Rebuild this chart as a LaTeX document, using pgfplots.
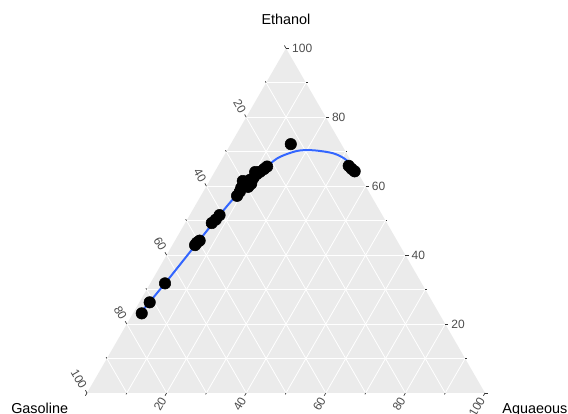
\documentclass[border=0pt]{standalone}
\usepackage{fontspec}
\setmainfont{Liberation Sans}
\usepackage{pgfplots}
\usepackage{pgfplotstable}
\pgfplotsset{compat=1.18}
\definecolor{panel}{HTML}{EBEBEB}
\definecolor{fitblue}{HTML}{3366FF}
\definecolor{ticklab}{HTML}{4D4D4D}
\definecolor{tickcol}{HTML}{333333}

% Ternary compositions: E = Ethanol, A = Aqueous (Gasoline = 100 - E - A)
\pgfplotstableread{
E A
23.1 2.2
26.3 2.6
31.8 3.7
42.9 5.7
43.6 5.8
44.2 6.2
49.3 6.7
50.3 7.2
51.6 7.5
57.2 9.1
58.4 9.2
59.5 9.0
60.1 9.4
60.8 9.8
60.7 10.9
61.8 10.0
62.3 10.6
63.5 10.9
64.1 10.2
64.2 11.4
65.0 12.0
65.7 12.4
59.8 10.6
61.5 8.4
72.2 15.1
65.9 32.8
65.0 34.0
64.3 35.1
}\pts

\pgfplotstableread{
E A
23.6 1.9
31.8 3.7
43.4 5.9
50.6 7.3
57.4 8.9
63.7 11.6
68.0 13.7
70.2 17.6
70.4 21.7
69.5 27.2
67.5 31.5
63.7 35.9
}\fitdata

\begin{document}
\begin{tikzpicture}
\begin{axis}[hide axis, scale only axis, width=426pt, height=310.5pt,
  xmin=-21.86, xmax=120.85, ymin=-5.28, ymax=98.74, clip=false]
\coordinate (bl) at (rel axis cs:0,0);
\coordinate (tr) at (rel axis cs:1,1);
\addplot[fill=panel, draw=none] coordinates {(0,0) (100,0) (50,86.60254)} -- cycle;
\pgfplotsinvokeforeach{10,20,...,90}{
  \draw[white, line width=0.6pt] ({#1/2},{0.8660254*#1}) -- ({100-#1/2},{0.8660254*#1});
  \draw[white, line width=0.6pt] ({#1},0) -- ({#1+(100-#1)/2},{0.8660254*(100-#1)});
  \draw[white, line width=0.6pt] ({100-#1},0) -- ({(100-#1)/2},{0.8660254*(100-#1)});
}
% major ticks
\pgfplotsinvokeforeach{0,20,...,100}{
  \draw[tickcol, line width=0.5pt] ({100-#1/2},{0.8660254*#1}) -- ({100-#1/2+0.8},{0.8660254*#1});
  \draw[tickcol, line width=0.5pt] ({50-#1/2},{0.8660254*(100-#1)}) -- ({50-#1/2-0.4},{0.8660254*(100-#1)+0.6928});
  \draw[tickcol, line width=0.5pt] ({#1},0) -- ({#1-0.4},-0.6928);
}
% minor ticks
\pgfplotsinvokeforeach{10,30,...,90}{
  \draw[tickcol, line width=0.5pt] ({100-#1/2},{0.8660254*#1}) -- ({100-#1/2+0.4},{0.8660254*#1});
  \draw[tickcol, line width=0.5pt] ({50-#1/2},{0.8660254*(100-#1)}) -- ({50-#1/2-0.2},{0.8660254*(100-#1)+0.3464});
  \draw[tickcol, line width=0.5pt] ({#1},0) -- ({#1-0.2},-0.3464);
}
% tick labels
\pgfplotsinvokeforeach{20,40,...,100}{
  \node[anchor=west, inner sep=0pt, text=ticklab, font=\fontsize{9}{10}\selectfont]
    at ({100-#1/2+1.5},{0.8660254*#1}) {#1};
  \node[anchor=east, rotate=-60, inner sep=0pt, text=ticklab, font=\fontsize{9}{10}\selectfont]
    at ({50-#1/2-0.75},{0.8660254*(100-#1)+1.299}) {#1};
  \node[anchor=east, rotate=60, inner sep=0pt, text=ticklab, font=\fontsize{9}{10}\selectfont]
    at ({#1-0.75},{-1.299}) {#1};
}
\addplot[only marks, mark=*, mark size=4.3pt, black]
  table[x expr=\thisrow{A}+0.5*\thisrow{E}, y expr=0.8660254*\thisrow{E}] {\pts};
\addplot[smooth, fitblue, line width=1.5pt]
  table[x expr=\thisrow{A}+0.5*\thisrow{E}, y expr=0.8660254*\thisrow{E}] {\fitdata};
\node[anchor=base, inner sep=0pt, font=\fontsize{10.8}{12}\selectfont] at (50,92.46) {Ethanol};
\node[anchor=base west, inner sep=0pt, font=\fontsize{10.8}{12}\selectfont] at (-19.1,-5.2) {Gasoline};
\node[anchor=base west, inner sep=0pt, font=\fontsize{10.8}{12}\selectfont] at (104.3,-5.2) {Aquaeous};
\end{axis}
\pgfresetboundingbox
\path (bl) rectangle (tr);
\end{tikzpicture}
\end{document}
